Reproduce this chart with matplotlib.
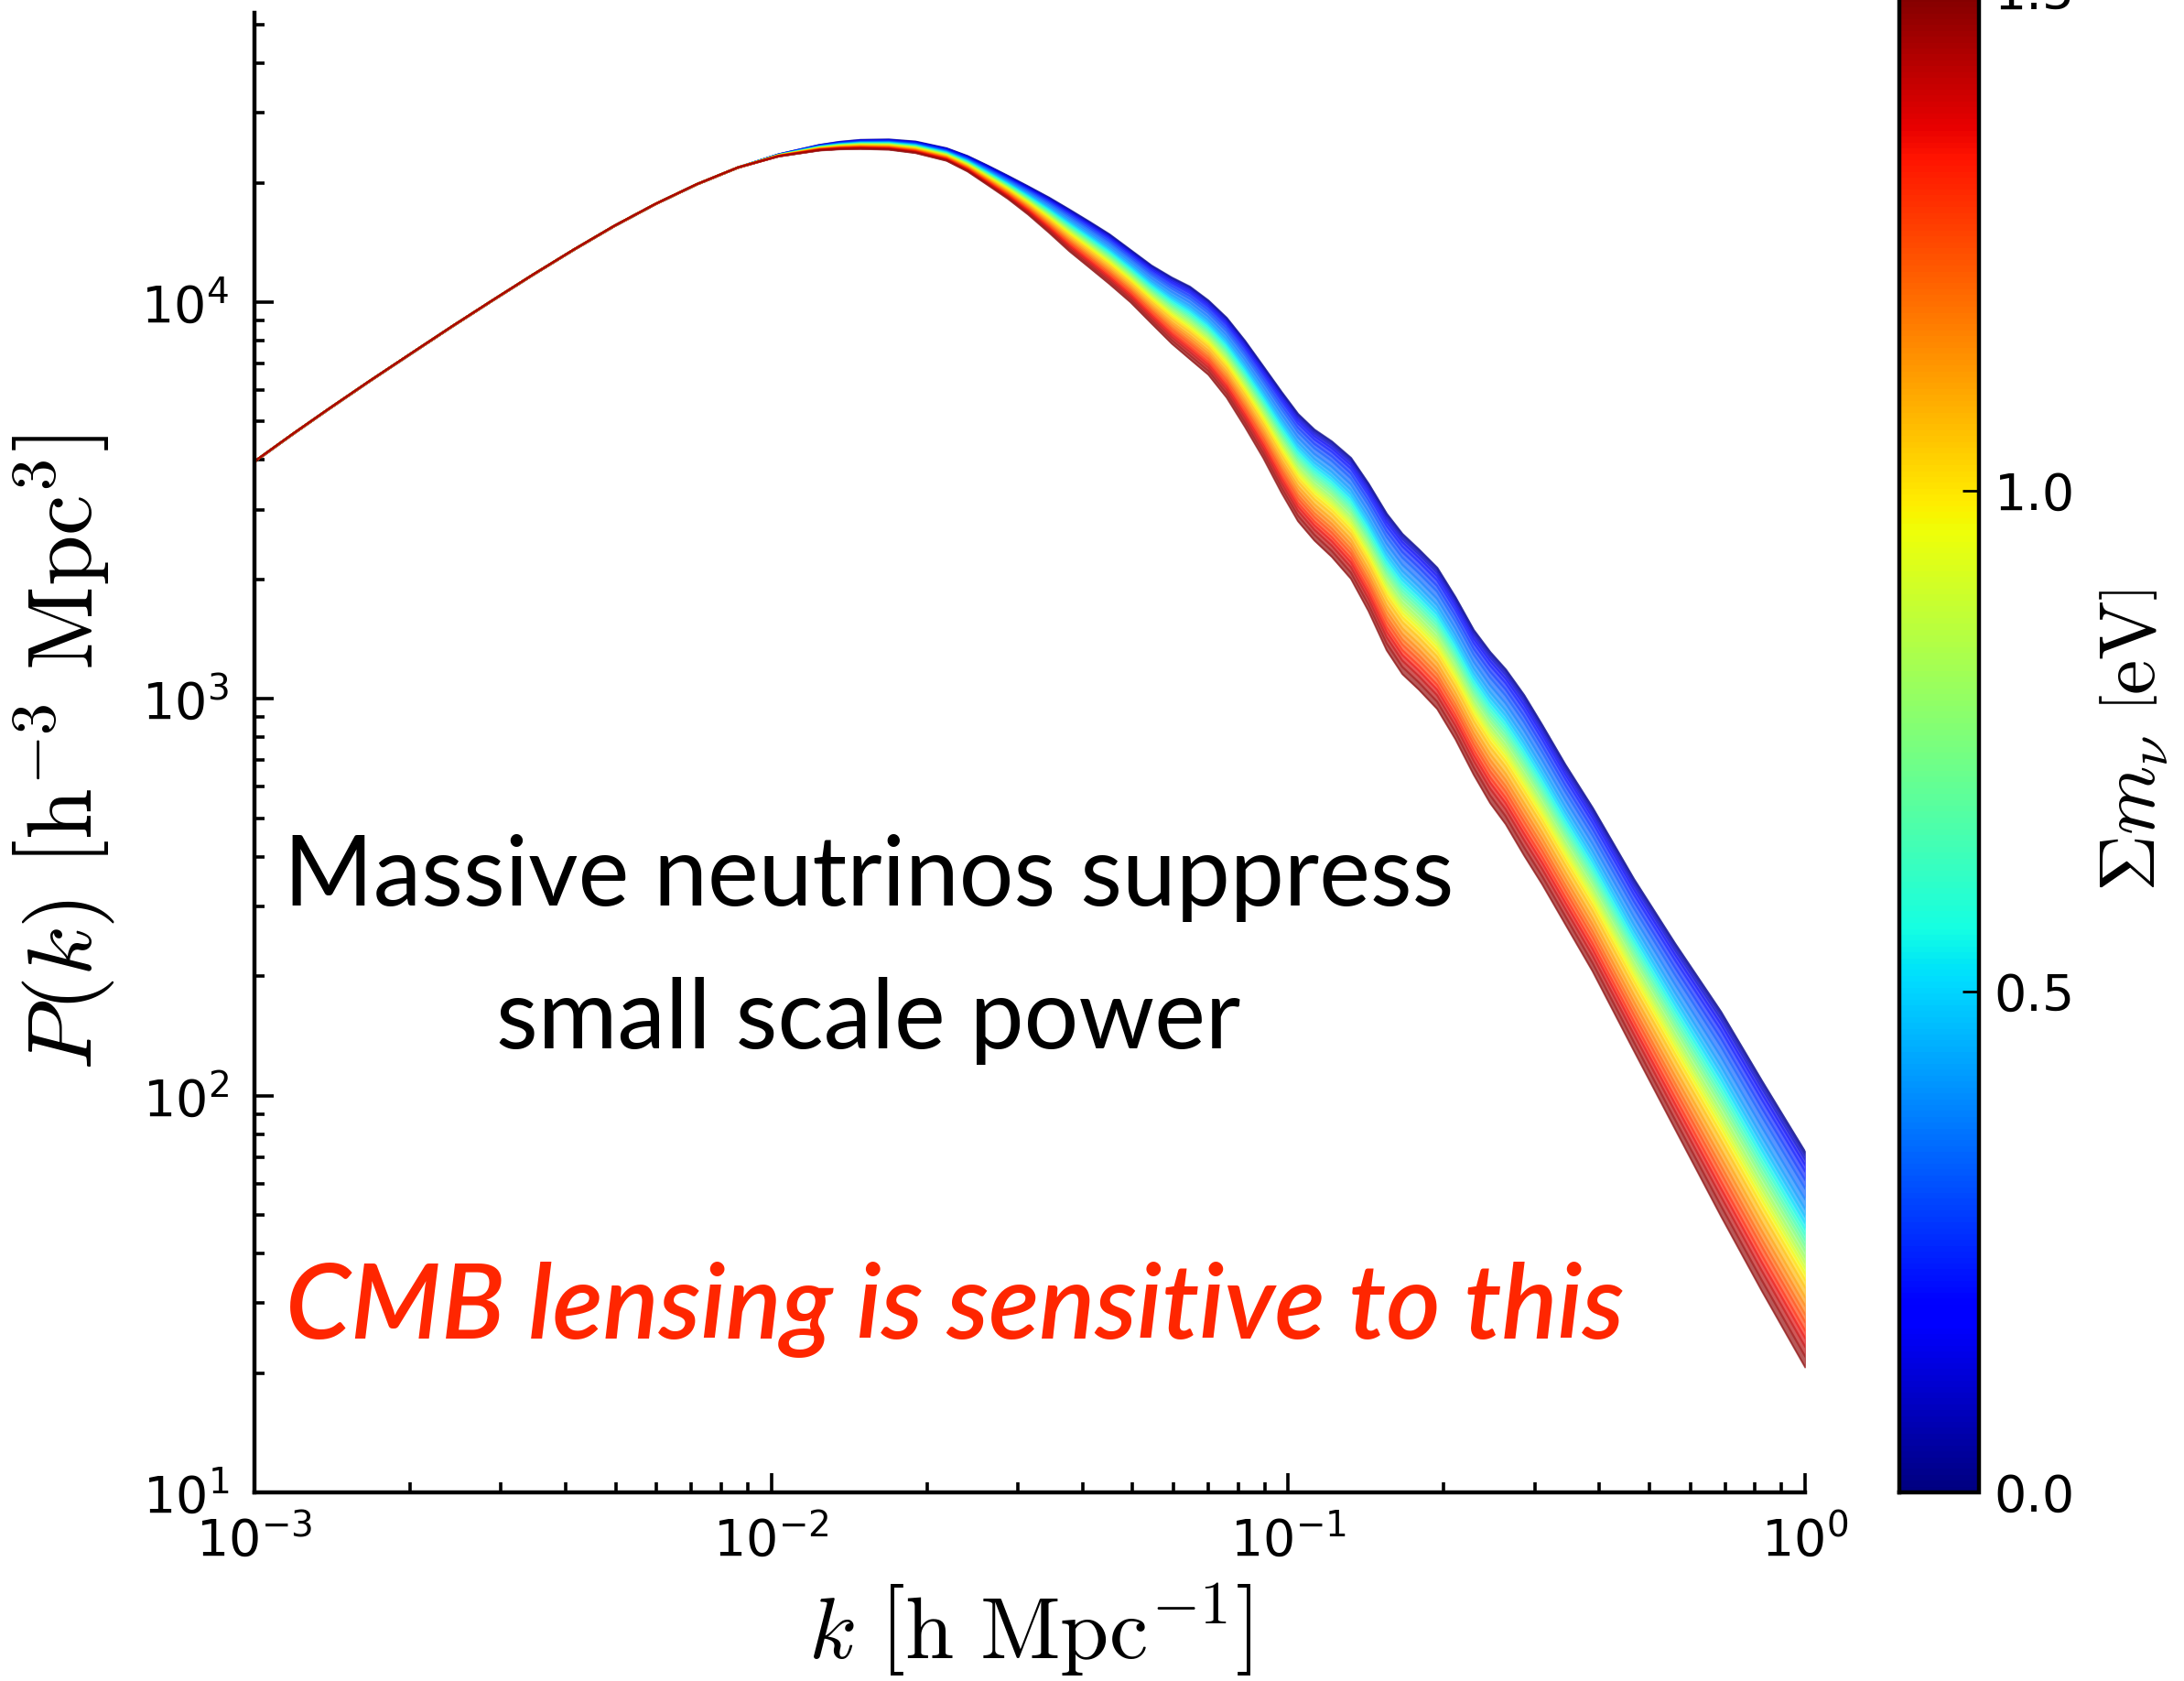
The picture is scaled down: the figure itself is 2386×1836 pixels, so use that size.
import numpy as np
import matplotlib

matplotlib.use('Agg')
import matplotlib.pyplot as plt
from matplotlib import cm, colors

plt.rcParams['mathtext.fontset'] = 'cm'
plt.rcParams['font.family'] = ['DejaVu Sans']

k_vals = [0.00100, 0.00119, 0.00139, 0.00167, 0.00201, 0.00241, 0.00289, 0.00346, 0.00415, 0.00497,
          0.00597, 0.00717, 0.00861, 0.01032, 0.01238, 0.01354, 0.01487, 0.01688, 0.01900, 0.02182,
          0.02396, 0.02621, 0.02868, 0.03135, 0.03444, 0.03768, 0.04121, 0.04508, 0.04952, 0.05437,
          0.05948, 0.06452, 0.07003, 0.07597, 0.08241, 0.08944, 0.09703, 0.1044, 0.1123, 0.1214,
          0.1322, 0.1429, 0.1550, 0.1662, 0.1789, 0.1941, 0.2105, 0.2284, 0.2458, 0.2634,
          0.2858, 0.3101, 0.3434, 0.3880, 0.4662, 0.5601, 0.6870, 0.8249, 1.0]

# P(k) for sum m_nu = 0 eV (upper edge of the band)
pk_massless = [3969, 4672, 5380, 6333, 7434, 8692, 10123, 11746, 13583, 15586,
               17701, 19834, 21857, 23584, 24903, 25354, 25645, 25710, 25410, 24440,
               23367, 22100, 20833, 19612, 18365, 17140, 15970, 14840, 13550, 12380,
               11550, 10950, 10110, 9142, 8004, 6898, 5945, 5234, 4779, 4461,
               4054, 3494, 2932, 2609, 2384, 2143, 1807, 1493, 1314, 1188,
               1024, 859, 684, 532, 352, 242, 163, 109, 72.2]

# P(k) for sum m_nu = 1.5 eV (lower edge of the band)
pk_heavy = [3969, 4672, 5380, 6333, 7434, 8692, 10123, 11746, 13583, 15586,
            17701, 19834, 21857, 23335, 24155, 24322, 24378, 24266, 23795, 22751,
            21380, 19760, 18240, 16670, 14990, 13470, 12250, 11130, 10010, 8852,
            7878, 7198, 6576, 5758, 4859, 4054, 3313, 2810, 2513, 2284,
            2011, 1669, 1328, 1157, 1057, 945, 793, 645, 547, 484,
            404, 341, 271, 206, 130, 82.5, 49.8, 32.2, 20.7]

# neutrino masses [eV] and where each curve sits across the band (0 = top, 1 = bottom, in log P)
masses = [0.00, 0.05, 0.10, 0.15, 0.20, 0.25, 0.30, 0.35, 0.40, 0.45, 0.50,
          0.55, 0.60, 0.65, 0.70, 0.75, 0.80, 0.85, 0.90, 0.95, 1.00,
          1.05, 1.10, 1.15, 1.20, 1.25, 1.30, 1.35, 1.40, 1.45, 1.50]
band_pos = [0.000, 0.015, 0.035, 0.060, 0.090, 0.130, 0.170, 0.220, 0.265, 0.300, 0.330,
            0.360, 0.385, 0.410, 0.435, 0.460, 0.490, 0.515, 0.540, 0.565, 0.595,
            0.630, 0.675, 0.715, 0.755, 0.790, 0.830, 0.865, 0.905, 0.950, 1.000]

cbar_ticks = [0.0, 0.5, 1.0, 1.5]

fig = plt.figure(figsize=(11.93, 9.18), dpi=200)
ax = fig.add_axes([0.1165, 0.1122, 0.7100, 0.8802])
cax = fig.add_axes([0.8697, 0.1122, 0.03646, 0.8938])

cmap = cm.jet
norm = colors.Normalize(vmin=0.0, vmax=1.5)
alpha = 0.65

k = np.array(k_vals)
log_top = np.log10(pk_massless)
log_bot = np.log10(pk_heavy)
curves = [10 ** ((1 - f) * log_top + f * log_bot) for f in band_pos]


def faded(c):
    rgb = np.array(colors.to_rgb(c))
    return 1 - alpha * (1 - rgb)


# coloured strips between neighbouring masses
for i in range(len(masses) - 1):
    mid = 0.5 * (masses[i] + masses[i + 1])
    col = faded(cmap(norm(mid)))
    ax.fill_between(k, curves[i], curves[i + 1], facecolor=col, edgecolor=col, lw=0.6)

# the individual curves on top
for m, pk in zip(masses, curves):
    ax.plot(k, pk, color=cmap(norm(m)), lw=0.8, alpha=0.45)

ax.set_xscale('log')
ax.set_yscale('log')
ax.set_xlim(1e-3, 1.0)
ax.set_ylim(10, 5.364e4)

for side in ['top', 'right']:
    ax.spines[side].set_visible(False)
for side in ['left', 'bottom']:
    ax.spines[side].set_linewidth(1.6)

ax.tick_params(which='both', direction='in', top=False, right=False, width=1.3)
ax.tick_params(which='major', length=7.5, labelsize=20)
ax.tick_params(which='minor', length=3.8)
ax.tick_params(axis='y', which='major', pad=10)
ax.tick_params(axis='x', which='major', pad=9)

ax.set_xlabel(r'$k\ \left[\mathrm{h\ Mpc^{-1}}\right]$', fontsize=34.5, labelpad=6)
ax.set_ylabel(r'$P(k)\ \left[\mathrm{h^{-3}\ Mpc^{3}}\right]$', fontsize=36, labelpad=10)

# colour bar
sm = cm.ScalarMappable(norm=norm, cmap=cmap)
cb = fig.colorbar(sm, cax=cax, ticks=cbar_ticks, format='%.1f')
cb.outline.set_linewidth(1.6)
cax.tick_params(direction='in', length=6.5, width=1.0, labelsize=20, pad=6)
cb.set_label(r'$\Sigma m_\nu\ \left[\mathrm{eV}\right]$', fontsize=31, labelpad=8)

# annotations
fig.text(0.3977, 1 - 989 / 1836, 'Massive neutrinos suppress', ha='center', va='baseline',
         fontsize=38, family=['Lato', 'DejaVu Sans'], color='black')
fig.text(0.3977, 1 - 1145 / 1836, 'small scale power', ha='center', va='baseline',
         fontsize=38, family=['Lato', 'DejaVu Sans'], color='black')
fig.text(312 / 2386, 1 - 1462 / 1836, 'CMB lensing is sensitive to this', ha='left', va='baseline',
         fontsize=41, family=['Lato', 'DejaVu Sans'], style='italic', weight='semibold',
         color='#ff2600')

fig.savefig('out.png', dpi=200)
plt.close(fig)
